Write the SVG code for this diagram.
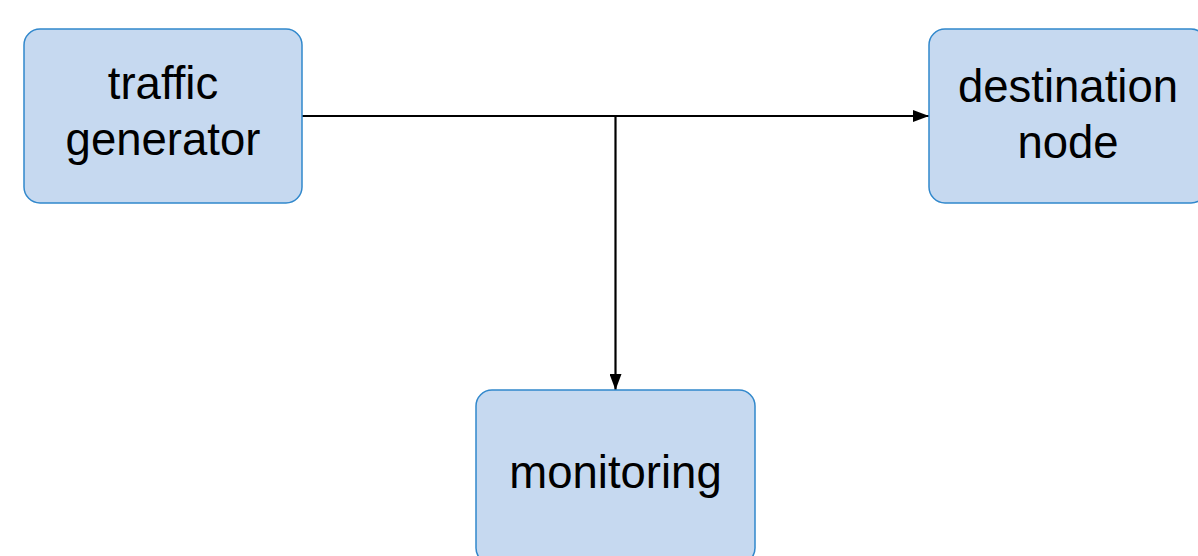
<svg xmlns="http://www.w3.org/2000/svg" width="1198" height="556" viewBox="0 0 1198 556">
  <style>
    .box { fill: #c6d9f0; stroke: #3188cc; stroke-width: 1.5; }
    .label { font-family: "Liberation Sans", Arial, sans-serif; font-size: 45.5px; fill: #000; text-anchor: middle; }
    .wire { fill: none; stroke: #000; stroke-width: 2.2; }
  </style>
  <defs>
    <marker id="arrowHead" viewBox="0 0 16 12" refX="16" refY="6" markerWidth="16" markerHeight="12" markerUnits="userSpaceOnUse" orient="auto">
      <path d="M0,0 L16,6 L0,12 Z" fill="#000"/>
    </marker>
  </defs>
  <rect width="1198" height="556" fill="#fff"/>

  <g id="connectors">
    <path class="wire" d="M302,116 L929,116" marker-end="url(#arrowHead)"/>
    <path class="wire" d="M615.5,116 L615.5,390" marker-end="url(#arrowHead)"/>
  </g>

  <g id="traffic-generator">
    <rect class="box" x="24" y="29" width="278" height="174" rx="16"/>
    <text class="label" x="163" y="99">traffic</text>
    <text class="label" x="163" y="155">generator</text>
  </g>

  <g id="destination-node">
    <rect class="box" x="929" y="29" width="278" height="174" rx="16"/>
    <text class="label" x="1068" y="102">destination</text>
    <text class="label" x="1068" y="158">node</text>
  </g>

  <g id="monitoring">
    <rect class="box" x="476" y="390" width="279" height="174" rx="16"/>
    <text class="label" x="615.5" y="488">monitoring</text>
  </g>
</svg>
